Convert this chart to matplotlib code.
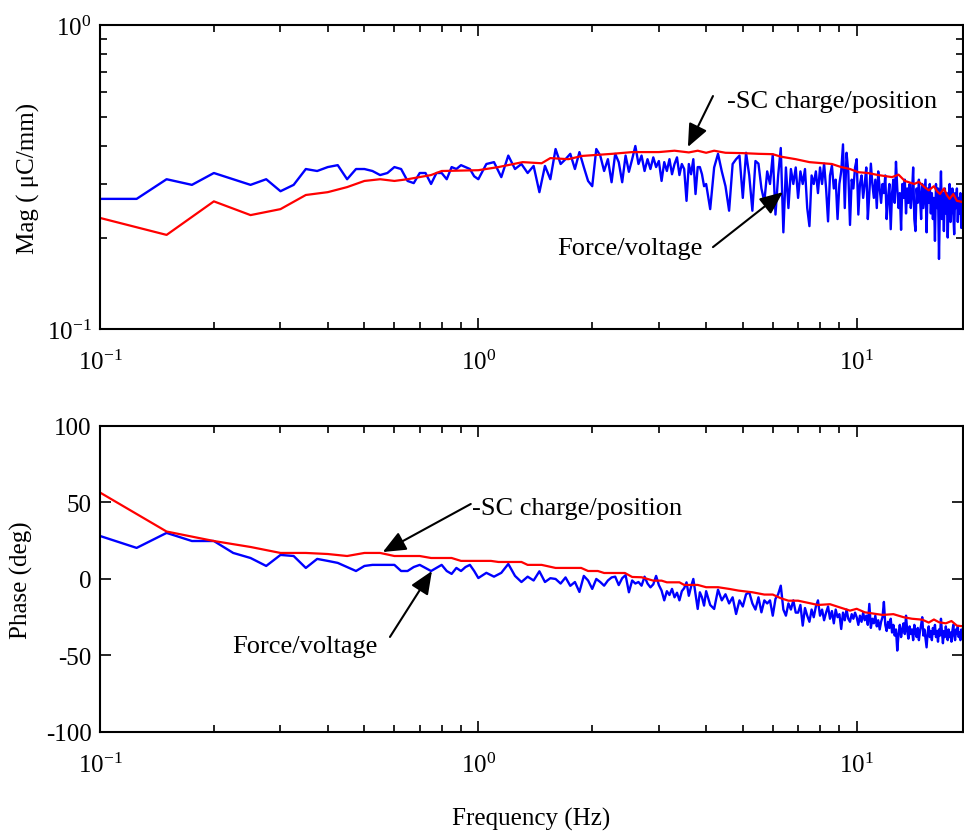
import numpy as np
import matplotlib
matplotlib.use("Agg")
import matplotlib.pyplot as plt
from matplotlib.ticker import NullFormatter

plt.rcParams['font.family'] = ['Liberation Serif', 'DejaVu Serif']
plt.rcParams['mathtext.default'] = 'regular'
plt.rcParams['axes.unicode_minus'] = False
plt.rcParams['font.size'] = 18

# frequency grids of the measured (blue) curves
f_lo = np.round(np.arange(0.1, 0.99, 0.025), 3)     # 0.1 .. 0.975
f_mid = np.round(np.arange(1.0, 3.99, 0.05), 3)     # 1.0 .. 3.95
f_hi = np.round(np.arange(4.0, 19.25, 0.1), 2)      # 4.0 .. 19.2

# Force/voltage magnitude (uC/mm)
mag_fv_lo = [0.268, 0.268, 0.311, 0.298, 0.326, 0.311, 0.298, 0.311, 0.284, 0.298,
             0.336, 0.331, 0.341, 0.346, 0.311, 0.336, 0.336, 0.331, 0.321, 0.326,
             0.341, 0.336, 0.307, 0.302, 0.326, 0.326, 0.300, 0.326, 0.326, 0.311,
             0.341, 0.336, 0.346, 0.341, 0.336, 0.318]
mag_fv_mid = [0.311, 0.349, 0.354, 0.316, 0.372, 0.336, 0.349, 0.326, 0.344, 0.282,
              0.344, 0.311, 0.391, 0.349, 0.362, 0.377, 0.336, 0.382, 0.341, 0.307,
              0.295, 0.391, 0.372, 0.331, 0.362, 0.304, 0.377, 0.354, 0.304, 0.372,
              0.329, 0.362, 0.400, 0.349, 0.372, 0.331, 0.362, 0.336, 0.367, 0.341,
              0.357, 0.307, 0.354, 0.331, 0.362, 0.323, 0.349, 0.367, 0.321, 0.349,
              0.336, 0.264, 0.349, 0.323, 0.362, 0.278, 0.341, 0.341, 0.323, 0.295]
mag_fv_hi = [0.300, 0.248, 0.340, 0.377, 0.330, 0.295, 0.245, 0.349, 0.362, 0.372,
             0.270, 0.380, 0.320, 0.245, 0.357, 0.350, 0.290, 0.262, 0.330, 0.300,
             0.375, 0.238, 0.320, 0.394, 0.208, 0.340, 0.250, 0.336, 0.300, 0.340,
             0.270, 0.330, 0.300, 0.336, 0.250, 0.218, 0.320, 0.300, 0.330, 0.280,
             0.340, 0.300, 0.350, 0.290, 0.226, 0.320, 0.345, 0.290, 0.310, 0.230,
             0.300, 0.330, 0.405, 0.250, 0.380, 0.330, 0.220, 0.310, 0.290, 0.340,
             0.362, 0.238, 0.300, 0.320, 0.270, 0.300, 0.340, 0.230, 0.280, 0.350,
             0.300, 0.270, 0.310, 0.250, 0.330, 0.290, 0.260, 0.300, 0.280, 0.320,
             0.230, 0.270, 0.300, 0.213, 0.280, 0.310, 0.260, 0.355, 0.290, 0.250,
             0.280, 0.212, 0.300, 0.270, 0.310, 0.240, 0.290, 0.260, 0.300, 0.250,
             0.280, 0.340, 0.230, 0.210, 0.290, 0.260, 0.310, 0.270, 0.230, 0.300,
             0.250, 0.280, 0.310, 0.208, 0.290, 0.260, 0.300, 0.240, 0.280, 0.230,
             0.270, 0.195, 0.300, 0.250, 0.290, 0.170, 0.260, 0.330, 0.230, 0.280,
             0.210, 0.290, 0.240, 0.280, 0.200, 0.270, 0.300, 0.225, 0.260, 0.290,
             0.240, 0.205, 0.280, 0.250, 0.290, 0.225, 0.270, 0.240, 0.280, 0.215,
             0.260, 0.275, 0.250]

# Force/voltage phase (deg)
ph_fv_lo = [28.1, 20.3, 30.1, 24.8, 24.8, 17.0, 13.7, 8.5, 15.7, 15.0,
            7.2, 13.1, 11.8, 10.5, 7.8, 5.2, 8.5, 9.2, 9.2, 9.2,
            9.2, 5.2, 5.2, 7.8, 9.2, 7.2, 5.2, 7.2, 9.2, 5.2,
            3.3, 7.2, 5.2, 7.8, 9.2, 5.2]
ph_fv_mid = [0.6, 4.0, 1.5, 4.0, 9.8, 2.0, -2.0, 1.5, -1.0, 5.0,
             -2.0, 0.5, 0.0, -3.0, 1.0, -4.5, -2.0, -8.5, 2.0, -1.0,
             -6.5, 0.0, -2.0, -4.4, -1.0, 1.0, 1.5, -4.0, 0.5, 2.5,
             -8.7, -1.0, -3.0, -2.0, -4.4, 1.5, -3.0, -5.5, -3.5, 2.0,
             -4.0, -7.6, -14.0, -8.0, -10.5, -6.5, -12.0, -9.0, -14.0, -8.0,
             -6.0, -2.2, -11.0, -5.0, 0.0, -10.0, -19.6, -8.7, -12.0, -17.4]
ph_fv_hi = [-8.0, -17.0, -19.6, -7.0, -14.0, -10.0, -16.0, -12.0, -22.9, -14.0,
            -18.0, -10.0, -8.7, -16.0, -20.0, -12.0, -21.8, -14.0, -16.0, -14.0,
            -24.0, -13.0, -10.0, -4.4, -20.0, -24.0, -16.0, -20.0, -14.0, -22.0,
            -22.0, -17.0, -30.5, -19.0, -24.0, -28.0, -20.0, -25.0, -18.0, -14.0,
            -24.0, -20.0, -27.0, -22.0, -18.0, -26.0, -21.0, -29.0, -20.0, -25.0,
            -23.0, -32.7, -22.0, -27.0, -20.0, -26.0, -28.0, -23.0, -26.0, -22.0,
            -25.0, -30.0, -24.0, -28.0, -22.0, -27.0, -24.0, -30.0, -16.3, -32.0,
            -26.0, -29.0, -24.0, -31.0, -27.0, -33.0, -28.0, -25.0, -15.0, -30.0,
            -34.0, -28.0, -32.0, -26.0, -35.0, -30.0, -37.0, -33.0, -46.8, -36.0,
            -30.0, -38.0, -33.0, -29.0, -36.0, -24.0, -34.0, -39.0, -31.0, -36.0,
            -33.0, -40.0, -30.0, -35.0, -38.0, -32.0, -40.0, -34.0, -30.0, -25.0,
            -37.0, -33.0, -39.0, -44.7, -35.0, -31.0, -38.0, -34.0, -40.0, -32.0,
            -36.0, -30.0, -38.0, -34.0, -41.0, -33.0, -37.0, -26.0, -35.0, -42.0,
            -34.0, -38.0, -31.0, -36.0, -40.0, -33.0, -38.0, -35.0, -41.0, -34.0,
            -30.0, -37.0, -40.0, -33.0, -36.0, -31.0, -38.0, -35.0, -40.0, -33.0,
            -37.0, -34.0, -36.0]

# -SC charge/position (red)
f_sc_mag = [0.1, 0.15, 0.2, 0.25, 0.3, 0.35, 0.4, 0.45, 0.5, 0.55,
            0.6, 0.65, 0.75, 0.8, 1.0, 1.13, 1.31, 1.47, 1.55, 1.73,
            1.88, 2.26, 2.55, 3.0, 3.3, 3.6, 3.8, 4.0, 4.2, 4.5,
            5.0, 5.5, 6.0, 6.3, 6.9, 7.5, 8.6, 9.1, 9.6, 10.1,
            10.7, 11.4, 12.4, 12.9, 13.4, 14.2, 14.6, 15.1, 15.5, 16.0,
            16.3, 16.6, 17.0, 17.3, 17.6, 18.0, 18.4, 18.7, 19.2]
mag_sc = [0.232, 0.204, 0.263, 0.237, 0.248, 0.276, 0.282, 0.293, 0.307, 0.311,
          0.307, 0.311, 0.321, 0.331, 0.333, 0.341, 0.354, 0.351, 0.365, 0.362,
          0.371, 0.377, 0.382, 0.382, 0.386, 0.381, 0.386, 0.380, 0.386, 0.380,
          0.379, 0.377, 0.376, 0.369, 0.362, 0.354, 0.349, 0.341, 0.336, 0.328,
          0.326, 0.321, 0.316, 0.322, 0.307, 0.300, 0.305, 0.293, 0.286, 0.295,
          0.284, 0.278, 0.290, 0.276, 0.268, 0.278, 0.264, 0.263, 0.261]

f_sc_ph = [0.1, 0.15, 0.2, 0.25, 0.3, 0.35, 0.4, 0.45, 0.5, 0.55,
           0.6, 0.7, 0.75, 0.85, 0.9, 1.08, 1.13, 1.3, 1.35, 1.47,
           1.6, 1.87, 1.95, 2.07, 2.15, 2.44, 2.55, 2.7, 2.8, 2.9,
           3.05, 3.15, 3.4, 3.5, 3.8, 4.0, 4.3, 4.6, 4.87, 5.3,
           5.7, 6.0, 6.3, 6.6, 7.0, 7.9, 8.5, 9.0, 9.6, 10.0,
           10.5, 11.7, 12.5, 13.3, 14.0, 14.9, 15.5, 16.0, 16.5, 17.2,
           17.8, 18.4, 19.2]
ph_sc = [56.5, 31.0, 24.8, 20.9, 17.0, 17.0, 16.3, 15.0, 17.0, 17.0,
         15.0, 15.0, 13.7, 13.7, 11.8, 11.8, 11.1, 11.1, 9.2, 9.2,
         7.2, 7.2, 5.2, 5.2, 3.9, 3.9, 1.3, 1.1, 0.0, -1.1,
         -1.1, -2.2, -2.2, -3.9, -3.9, -5.4, -5.4, -6.5, -7.6, -8.7,
         -10.2, -10.2, -12.6, -14.2, -14.2, -17.0, -16.5, -18.5, -20.7, -19.5,
         -21.8, -23.5, -23.0, -25.0, -26.0, -26.6, -28.5, -26.5, -28.3, -29.0,
         -27.5, -30.5, -31.0]

f_fv = np.concatenate([f_lo, f_mid, f_hi])
mag_fv = np.concatenate([mag_fv_lo, mag_fv_mid, mag_fv_hi])
ph_fv = np.concatenate([ph_fv_lo, ph_fv_mid, ph_fv_hi])

fig = plt.figure(figsize=(9.64, 8.37), dpi=100)
ax1 = fig.add_axes([0.1037, 0.6057, 0.8953, 0.3632])
ax2 = fig.add_axes([0.1037, 0.1243, 0.8953, 0.3656])

ax1.plot(f_fv, mag_fv, color='#0000ff', lw=1.7)
ax1.plot(f_sc_mag, mag_sc, color='#ff0000', lw=1.6)
ax2.plot(f_fv, ph_fv, color='#0000ff', lw=1.7)
ax2.plot(f_sc_ph, ph_sc, color='#ff0000', lw=1.6)

for ax in (ax1, ax2):
    ax.set_xscale('log')
    ax.set_xlim(0.1, 19.1)
    ax.tick_params(which='both', direction='in', top=True, right=True, width=1.2)
    ax.tick_params(which='major', length=8, labelsize=18)
    ax.tick_params(which='minor', length=5)
    ax.tick_params(axis='x', which='major', pad=15)
    ax.tick_params(axis='y', which='major', pad=6)
    ax.xaxis.set_minor_formatter(NullFormatter())
    for s in ax.spines.values():
        s.set_linewidth(1.5)

ax1.set_yscale('log')
ax1.set_ylim(0.1, 1.0)
ax1.yaxis.set_minor_formatter(NullFormatter())
ax1.set_ylabel('Mag ( μC/mm)')
ax1.yaxis.set_label_coords(-0.070, 0.5)

ax2.set_ylim(-100, 100)
ax2.set_yticks([-100, -50, 0, 50, 100])
ax2.set_ylabel('Phase (deg)')
ax2.yaxis.set_label_coords(-0.078, 0.5)
ax2.set_xlabel('Frequency (Hz)')
ax2.xaxis.set_label_coords(0.5, -0.245)

arrow = dict(arrowstyle='-|>,head_length=0.7,head_width=0.3', color='k',
             lw=1.5, mutation_scale=20, shrinkA=0, shrinkB=0)
note = dict(ha='left', va='baseline', fontsize=19)

ax1.annotate('', xy=(3.58, 0.397), xytext=(4.17, 0.584), arrowprops=arrow)
ax1.text(4.53, 0.537, '-SC charge/position', **note)
ax1.annotate('', xy=(6.38, 0.282), xytext=(4.17, 0.186), arrowprops=arrow)
ax1.text(1.62, 0.1765, 'Force/voltage', **note)

ax2.annotate('', xy=(0.559, 17.6), xytext=(0.955, 49.0), arrowprops=arrow)
ax2.text(0.961, 42.5, '-SC charge/position', **note)
ax2.annotate('', xy=(0.754, 5.2), xytext=(0.584, -37.9), arrowprops=arrow)
ax2.text(0.223, -47.7, 'Force/voltage', **note)

fig.savefig('out.png', dpi=100)
